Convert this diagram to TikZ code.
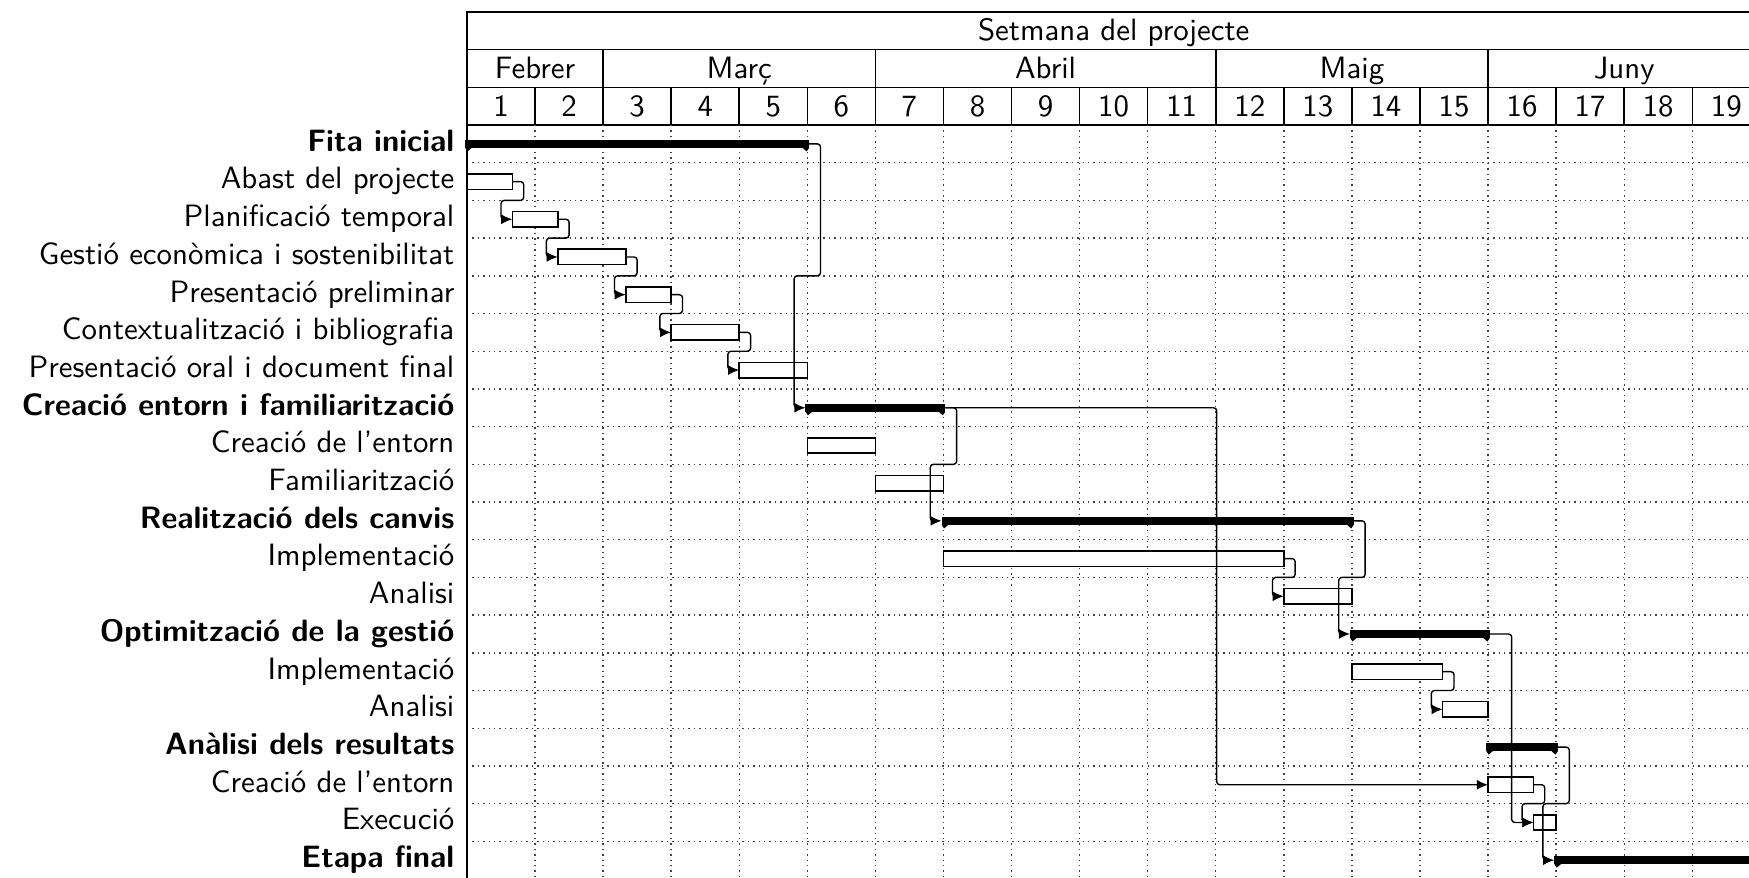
\documentclass[tikz,border=0pt]{standalone}
\usepackage{fontspec}
\usetikzlibrary{arrows.meta,calc}

\begin{document}
\begin{tikzpicture}[x=7.352pt, y=12.215pt, font=\sffamily,
    hcell/.style={draw, line width=0.5pt, inner sep=0pt, outer sep=0pt, minimum height=12.215pt, text height=8pt, text depth=1.6pt},
    taskbar/.style={draw, fill=white, line width=0.5pt, inner sep=0pt, outer sep=0pt, minimum height=5pt},
    groupbar/.style={fill=black, inner sep=0pt, outer sep=0pt, minimum height=2.5pt},
    tasklabel/.style={anchor=base east, inner sep=0pt, yshift=-2.4pt},
    grouplabel/.style={tasklabel, font=\sffamily\bfseries},
    link/.style={-{Latex[length=3.6pt,width=3.2pt]}, line width=0.45pt, rounded corners=1pt},
    gridline/.style={line width=0.45pt, black!75, dash pattern=on 0.45pt off 1.3pt}]
    \useasboundingbox (-20.58,-19.97) rectangle (56.5,3.316);
    \clip (-20.58,-19.97) rectangle (56.5,3.316);

    % capcalera
    \node[hcell, minimum width={57*7.352pt}] (title) at (28.5,2.5) {Setmana del projecte};
    \foreach \mname/\bs/\be in {Febrer/0/6, Març/6/18, Abril/18/33, Maig/33/45, Juny/45/57} {
        \node[hcell, minimum width={(\be-\bs)*7.352pt}] (m\bs) at ({(\bs+\be)/2},1.5) {\mname};
    }
    \foreach \w in {1,...,19} {
        \node[hcell, minimum width={3*7.352pt}] (w\w) at ({3*\w-1.5},0.5) {\w};
    }

    % graella
    \foreach \w in {1,...,19} {
        \draw[gridline] (3*\w,0) -- (3*\w,-20);
    }
    \foreach \k in {1,...,19} {
        \draw[gridline] (0,-\k) -- (57,-\k);
    }
    \draw[line width=0.5pt] (0,0) -- (0,-20);

    % etapes
    \foreach \ri/\bs/\be/\txt in {1/0/15/Fita inicial, 8/15/21/Creació entorn i familiarització,
        11/21/39/Realització dels canvis, 14/39/45/Optimització de la gestió,
        17/45/48/Anàlisi dels resultats, 20/48/57/Etapa final} {
        \node[grouplabel] (l\ri) at (-0.53,{0.5-\ri}) {\txt};
        \node[groupbar, minimum width={(\be-\bs)*7.352pt+1.2pt}] (t\ri) at ({(\bs+\be)/2},{0.5-\ri}) {};
        \fill (t\ri.south west) -- ++(2.2pt,0) -- ++(-1.4pt,-1.2pt) -- cycle;
        \fill (t\ri.south east) -- ++(-2.2pt,0) -- ++(1.4pt,-1.2pt) -- cycle;
    }

    % tasques
    \foreach \ri/\bs/\be/\txt in {2/0/2/Abast del projecte, 3/2/4/Planificació temporal,
        4/4/7/Gestió econòmica i sostenibilitat, 5/7/9/Presentació preliminar,
        6/9/12/Contextualització i bibliografia, 7/12/15/Presentació oral i document final,
        9/15/18/Creació de l'entorn, 10/18/21/Familiarització,
        12/21/36/Implementació, 13/36/39/Analisi,
        15/39/43/Implementació, 16/43/45/Analisi,
        18/45/47/Creació de l'entorn, 19/47/48/Execució} {
        \node[tasklabel] (l\ri) at (-0.53,{0.5-\ri}) {\txt};
        \node[taskbar, minimum width={(\be-\bs)*7.352pt}] (t\ri) at ({(\bs+\be)/2},{0.5-\ri}) {};
    }

    % dependencies
    \foreach \src/\dst in {2/3, 3/4, 4/5, 5/6, 6/7, 1/8, 8/11, 12/13, 11/14, 15/16, 18/19, 17/20} {
        \draw[link] (t\src.east) -- ++(0.5,0) |- ($(t\src.east)!.5!(t\dst.west)$)
            -| ($(t\dst.west)+(-0.5,0)$) -- (t\dst.west);
    }
    \foreach \src/\dst in {8/18, 14/19} {
        \draw[link] (t\src.east) -| ($(t\src.east)!.5!(t\dst.west)$) |- (t\dst.west);
    }
\end{tikzpicture}
\end{document}
